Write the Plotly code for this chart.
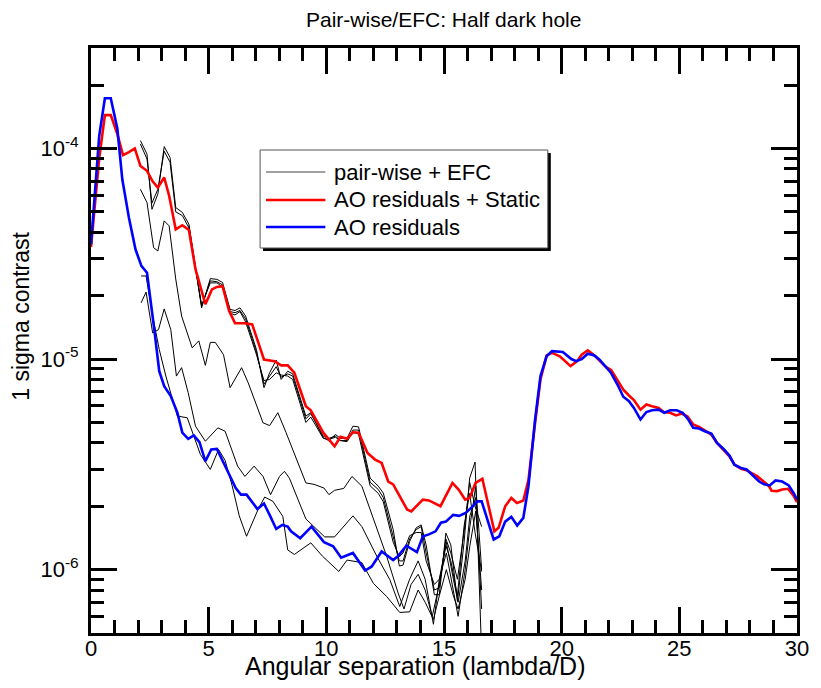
import plotly.graph_objects as go

# ---------------- data ----------------
red_x = [0.0, 0.35, 0.59, 0.84, 1.12, 1.36, 1.61, 1.86, 2.10, 2.38, 2.61, 2.84, 3.11, 3.32, 3.60, 3.88, 4.16, 4.44,
         4.86, 5.14, 5.35, 5.59, 5.87, 6.12, 6.54, 6.85, 7.35, 7.80, 8.08, 8.36, 8.64, 9.13, 9.34, 9.87, 10.35, 10.60,
         10.88, 11.13, 11.37, 11.75, 12.07, 12.35, 12.63, 12.84, 13.43, 13.61, 14.10, 14.36, 14.85, 15.36, 15.62, 15.90,
         16.09, 16.34, 16.63, 17.14, 17.32, 17.60, 17.86, 18.10, 18.37, 18.59, 18.87, 19.10, 19.36, 19.59, 19.92, 20.38,
         20.66, 20.85, 21.11, 21.39, 21.67, 21.88, 22.11, 22.37, 22.62, 22.86, 23.07, 23.35, 23.60, 23.84, 24.12, 24.33,
         24.61, 24.86, 25.10, 25.34, 25.59, 25.84, 26.08, 26.36, 26.60, 26.88, 27.13, 27.34, 27.62, 27.86, 28.04, 28.32,
         28.53, 28.81, 28.92, 29.16, 29.37, 29.62, 29.86, 30.0]
red_y = [3.4e-5, 9.0e-5, 1.44e-4, 1.44e-4, 1.17e-4, 9.3e-5, 9.6e-5, 1.0e-4, 8.26e-5, 7.83e-5, 7.0e-5, 6.52e-5, 7.28e-5,
         5.96e-5, 4.13e-5, 4.32e-5, 4.10e-5, 2.67e-5, 1.82e-5, 2.14e-5, 2.2e-5, 2.22e-5, 1.69e-5, 1.48e-5, 1.48e-5,
         1.46e-5, 9.95e-6, 9.77e-6, 9.33e-6, 9.33e-6, 8.61e-6, 5.97e-6, 5.71e-6, 4.47e-6, 3.85e-6, 4.27e-6, 4.18e-6,
         4.49e-6, 4.47e-6, 3.58e-6, 3.33e-6, 3.21e-6, 2.62e-6, 2.54e-6, 1.93e-6, 1.89e-6, 2.15e-6, 2.13e-6, 2.0e-6,
         2.58e-6, 2.40e-6, 2.15e-6, 2.19e-6, 2.58e-6, 2.70e-6, 1.52e-6, 1.58e-6, 2.0e-6, 2.19e-6, 2.07e-6, 2.13e-6,
         2.67e-6, 4.98e-6, 8.0e-6, 1.04e-5, 1.07e-5, 1.03e-5, 9.25e-6, 9.77e-6, 1.05e-5, 1.10e-5, 1.04e-5, 9.66e-6,
         9.18e-6, 8.85e-6, 8.0e-6, 7.16e-6, 6.71e-6, 6.38e-6, 5.75e-6, 6.08e-6, 5.97e-6, 5.86e-6, 5.60e-6, 5.56e-6,
         5.40e-6, 5.51e-6, 5.35e-6, 4.89e-6, 4.76e-6, 4.59e-6, 4.38e-6, 4.0e-6, 3.72e-6, 3.45e-6, 3.15e-6, 3.01e-6,
         2.96e-6, 2.88e-6, 2.77e-6, 2.65e-6, 2.49e-6, 2.37e-6, 2.36e-6, 2.40e-6, 2.42e-6, 2.24e-6, 2.09e-6]

blue_x = [0.0, 0.35, 0.59, 0.84, 1.12, 1.33, 1.61, 1.89, 2.14, 2.38, 2.69, 2.90, 3.11, 3.39, 3.67, 3.88, 4.13, 4.37,
          4.61, 4.86, 5.11, 5.35, 5.77, 6.15, 6.37, 6.61, 7.07, 7.35, 7.59, 7.87, 8.13, 8.36, 8.50, 8.89, 9.37, 9.90,
          10.29, 10.63, 11.13, 11.65, 11.93, 12.35, 12.84, 13.05, 13.40, 13.85, 14.10, 14.36, 14.64, 14.87, 15.08,
          15.39, 15.64, 15.92, 16.21, 16.42, 16.60, 17.11, 17.35, 17.60, 17.86, 18.11, 18.37, 18.59, 18.87, 19.10,
          19.36, 19.59, 20.05, 20.41, 20.62, 20.85, 21.11, 21.39, 21.60, 22.09, 22.37, 22.62, 22.86, 23.07, 23.35,
          23.60, 23.84, 24.12, 24.36, 24.61, 24.89, 25.14, 25.38, 25.59, 25.84, 26.08, 26.36, 26.60, 26.88, 27.13,
          27.34, 27.62, 27.86, 28.11, 28.39, 28.60, 28.84, 29.09, 29.37, 29.65, 29.86, 30.0]
blue_y = [3.5e-5, 1.15e-4, 1.73e-4, 1.73e-4, 1.24e-4, 7.14e-5, 4.70e-5, 3.32e-5, 2.77e-5, 2.57e-5, 1.38e-5, 8.75e-6,
          7.43e-6, 6.67e-6, 5.56e-6, 4.47e-6, 4.18e-6, 4.34e-6, 4.03e-6, 3.27e-6, 3.72e-6, 3.74e-6, 2.99e-6, 2.44e-6,
          2.27e-6, 2.27e-6, 1.94e-6, 2.06e-6, 1.82e-6, 1.56e-6, 1.63e-6, 1.60e-6, 1.52e-6, 1.41e-6, 1.60e-6, 1.35e-6,
          1.29e-6, 1.14e-6, 1.20e-6, 9.9e-7, 1.035e-6, 1.22e-6, 1.11e-6, 1.16e-6, 1.30e-6, 1.21e-6, 1.44e-6, 1.47e-6,
          1.52e-6, 1.67e-6, 1.69e-6, 1.82e-6, 1.80e-6, 1.86e-6, 1.99e-6, 2.11e-6, 2.11e-6, 1.39e-6, 1.44e-6, 1.69e-6,
          1.78e-6, 1.62e-6, 1.76e-6, 2.49e-6, 5.16e-6, 8.30e-6, 1.03e-5, 1.09e-5, 1.08e-5, 1.0e-5, 9.77e-6, 1.0e-5,
          1.06e-5, 1.04e-5, 9.95e-6, 8.61e-6, 7.57e-6, 6.62e-6, 6.31e-6, 5.86e-6, 5.16e-6, 5.60e-6, 5.71e-6, 5.75e-6,
          5.56e-6, 5.71e-6, 5.71e-6, 5.56e-6, 5.16e-6, 4.71e-6, 4.68e-6, 4.54e-6, 4.43e-6, 4.0e-6, 3.74e-6, 3.48e-6,
          3.15e-6, 3.04e-6, 2.99e-6, 2.82e-6, 2.62e-6, 2.54e-6, 2.51e-6, 2.65e-6, 2.62e-6, 2.51e-6, 2.31e-6, 2.15e-6]

# pair-wise + EFC iterations (thin black)
pw1_x = [2.10, 2.38, 2.59, 2.84, 3.11, 3.36, 3.60, 3.88, 4.16, 4.48, 4.70, 5.07, 5.35, 5.59, 5.91, 6.12, 6.33, 6.57,
         7.03, 7.35, 7.59, 7.87, 8.08, 8.36, 8.57, 9.13, 9.34, 9.87, 10.10, 10.39, 10.60, 10.88, 11.13, 11.37, 11.86,
         12.21, 12.42, 12.84, 13.10, 13.26, 13.54, 13.82, 14.03, 14.24, 14.59, 14.80, 15.08, 15.29, 15.57, 15.85,
         16.09, 16.32, 16.60]
pw1_y = [1.09e-4, 9.4e-5, 5.14e-5, 6.07e-5, 1.02e-4, 9.06e-5, 5.24e-5, 4.97e-5, 4.37e-5, 2.57e-5, 1.75e-5, 2.41e-5,
         2.39e-5, 2.31e-5, 1.72e-5, 1.70e-5, 1.75e-5, 1.60e-5, 1.11e-5, 7.31e-6, 8.61e-6, 9.88e-6, 8.0e-6, 8.75e-6,
         8.5e-6, 5.36e-6, 5.56e-6, 4.23e-6, 4.10e-6, 4.38e-6, 4.20e-6, 4.20e-6, 4.80e-6, 4.76e-6, 2.72e-6, 2.49e-6,
         2.31e-6, 1.55e-6, 1.04e-6, 1.05e-6, 1.36e-6, 1.58e-6, 1.63e-6, 1.31e-6, 7.6e-7, 7.6e-7, 1.49e-6, 1.31e-6,
         7.06e-7, 1.34e-6, 2.72e-6, 3.24e-6, 4.0e-7]
pw2_x = [2.10, 2.38, 2.59, 2.84, 3.11, 3.36, 3.60, 3.88, 4.16, 4.48, 4.70, 5.07, 5.35, 5.59, 5.91, 6.12, 6.33, 6.57,
         7.03, 7.35, 7.59, 7.87, 8.08, 8.36, 8.57, 9.13, 9.34, 9.87, 10.10, 10.39, 10.60, 10.88, 11.13, 11.37, 11.86,
         12.21, 12.42, 12.84, 13.10, 13.26, 13.54, 13.82, 14.03, 14.24, 14.59, 14.80, 15.08, 15.29, 15.57, 15.85,
         16.09, 16.32, 16.60]
pw2_y = [1.05e-4, 8.9e-5, 5.5e-5, 6.4e-5, 9.7e-5, 8.6e-5, 5.0e-5, 4.8e-5, 4.2e-5, 2.5e-5, 1.78e-5, 2.35e-5,
         2.33e-5, 2.25e-5, 1.68e-5, 1.66e-5, 1.70e-5, 1.55e-5, 1.08e-5, 7.6e-6, 8.3e-6, 9.2e-6, 8.2e-6, 8.5e-6,
         8.3e-6, 5.2e-6, 5.5e-6, 4.3e-6, 4.2e-6, 4.3e-6, 4.1e-6, 4.1e-6, 4.6e-6, 4.6e-6, 2.6e-6, 2.4e-6,
         2.2e-6, 1.45e-6, 1.1e-6, 1.1e-6, 1.4e-6, 1.55e-6, 1.6e-6, 1.2e-6, 8.0e-7, 8.2e-7, 1.4e-6, 1.2e-6,
         9.0e-7, 1.5e-6, 2.6e-6, 2.0e-6, 1.6e-6]
pw3_x = [4.16, 4.48, 4.70, 5.07, 5.35, 5.59, 5.91, 6.12, 6.33, 6.57, 7.03, 7.35, 7.59, 7.87, 8.08, 8.36, 8.57, 9.13,
         9.34, 9.87, 10.10, 10.39, 10.60, 10.88, 11.13, 11.37, 11.86, 12.21, 12.42, 12.84, 13.10, 13.26, 13.54, 13.82,
         14.03, 14.24, 14.59, 14.80, 15.08, 15.29, 15.57, 15.85, 16.09, 16.32, 16.60]
pw3_y = [4.3e-5, 2.6e-5, 1.8e-5, 2.3e-5, 2.3e-5, 2.2e-5, 1.65e-5, 1.62e-5, 1.68e-5, 1.5e-5, 1.05e-5, 7.9e-6,
         8.0e-6, 8.6e-6, 8.4e-6, 8.3e-6, 8.0e-6, 5.0e-6, 5.3e-6, 4.2e-6, 4.15e-6, 4.25e-6, 4.1e-6, 4.05e-6, 4.5e-6,
         4.4e-6, 2.5e-6, 2.3e-6, 2.1e-6, 1.35e-6, 1.15e-6, 1.2e-6, 1.45e-6, 1.5e-6, 1.5e-6, 1.1e-6, 8.5e-7, 9.0e-7,
         1.3e-6, 1.1e-6, 7.5e-7, 1.6e-6, 2.3e-6, 1.5e-6, 9.8e-7]
pw4_x = [2.10, 2.38, 2.66, 2.84, 3.11, 3.32, 3.60, 3.85, 4.30, 4.58, 4.86, 5.07, 5.28, 5.63, 5.91, 6.40, 6.68, 7.31,
         7.59, 7.94, 8.29, 8.64, 9.13, 9.48, 9.90, 10.11, 10.35, 10.74, 11.09, 11.51, 12.07, 12.56, 13.05, 13.30,
         13.60, 13.90, 14.20, 14.50, 14.80, 15.10, 15.40, 15.60, 15.90, 16.10, 16.35, 16.60]
pw4_y = [6.40e-5, 5.53e-5, 3.38e-5, 3.26e-5, 4.53e-5, 4.29e-5, 2.40e-5, 1.60e-5, 1.13e-5, 1.22e-5, 9.33e-6, 1.20e-5,
         1.20e-5, 1.05e-5, 7.31e-6, 9.10e-6, 7.71e-6, 4.98e-6, 4.83e-6, 5.56e-6, 4.47e-6, 3.58e-6, 2.58e-6, 2.54e-6,
         2.44e-6, 2.27e-6, 2.38e-6, 2.43e-6, 2.77e-6, 2.49e-6, 1.67e-6, 1.16e-6, 7.74e-7, 6.5e-7, 8.5e-7, 9.5e-7,
         8.0e-7, 6.0e-7, 8.5e-7, 1.35e-6, 9.0e-7, 7.0e-7, 1.1e-6, 1.8e-6, 2.2e-6, 6.5e-7]
pw5_x = [2.13, 2.34, 2.62, 2.87, 3.11, 3.39, 3.63, 3.85, 4.13, 4.44, 4.86, 5.39, 5.70, 5.98, 6.23, 6.54, 6.93, 7.31,
         7.63, 8.01, 8.22, 8.43, 9.13, 9.93, 10.35, 11.13, 11.51, 12.14, 12.70, 13.12, 13.54, 13.90, 14.20, 14.55,
         14.80, 15.10, 15.40, 15.60, 15.90, 16.10, 16.35, 16.60]
pw5_y = [1.85e-5, 2.08e-5, 1.33e-5, 1.38e-5, 1.73e-5, 1.38e-5, 8.3e-6, 9.1e-6, 6.92e-6, 4.80e-6, 4.07e-6, 4.71e-6,
         4.54e-6, 3.72e-6, 3.10e-6, 2.77e-6, 3.10e-6, 2.77e-6, 2.27e-6, 2.77e-6, 2.93e-6, 2.72e-6, 1.74e-6, 1.43e-6,
         1.43e-6, 1.80e-6, 1.60e-6, 1.16e-6, 8.95e-7, 6.68e-7, 9.0e-7, 1.1e-6, 9.0e-7, 5.5e-7, 9.0e-7, 1.2e-6, 8.0e-7,
         6.0e-7, 1.0e-6, 1.6e-6, 2.5e-6, 1.0e-6]
pw6_x = [2.13, 2.34, 2.62, 2.90, 3.18, 3.39, 3.67, 4.09, 4.37, 4.65, 5.07, 5.42, 5.70, 6.00, 6.30, 6.61, 7.10, 7.38,
         7.73, 8.15, 8.36, 8.64, 9.34, 9.83, 10.53, 10.88, 11.51, 12.00, 12.56, 13.12, 13.54, 13.90, 14.20, 14.55,
         14.80, 15.10, 15.40, 15.60, 15.90, 16.10, 16.35, 16.60]
pw6_y = [2.48e-5, 2.48e-5, 1.6e-5, 1.11e-5, 8.3e-6, 6.9e-6, 5.36e-6, 5.26e-6, 4.3e-6, 3.52e-6, 2.99e-6, 3.72e-6,
         3.3e-6, 2.5e-6, 1.8e-6, 1.44e-6, 1.93e-6, 2.21e-6, 2.11e-6, 1.79e-6, 1.24e-6, 1.18e-6, 1.34e-6, 1.16e-6,
         9.8e-7, 1.11e-6, 1.08e-6, 8.6e-7, 7.46e-7, 6.26e-7, 6.3e-7, 8.0e-7, 7.0e-7, 5.8e-7, 7.5e-7, 1.0e-6, 7.5e-7,
         6.5e-7, 9.0e-7, 1.3e-6, 1.9e-6, 8.0e-7]

pw_x = [pw1_x, pw2_x, pw3_x, pw4_x, pw5_x, pw6_x]
pw_y = [pw1_y, pw2_y, pw3_y, pw4_y, pw5_y, pw6_y]

y_tickvals = [1e-6, 1e-5, 1e-4]
y_ticktext = ["10<sup>-6</sup>", "10<sup>-5</sup>", "10<sup>-4</sup>"]
x_tickvals = [0, 5, 10, 15, 20, 25, 30]

title_text = "Pair-wise/EFC: Half dark hole"
x_title = "Angular separation (lambda/D)"
y_title = "1 sigma contrast"
legend_labels = ["pair-wise + EFC", "AO residuals + Static", "AO residuals"]

# ---------------- figure ----------------
OFF = 8                      # page body margin
W, H = 821 - OFF, 688 - OFF
L, R, T, B = 91, 805, 48, 633  # plot frame in screenshot pixels
FONT = "Liberation Sans, Arial, Helvetica, sans-serif"


def px(xs):
    return (xs - L) / (R - L)


def py(ys):
    return (B - ys) / (B - T)


fig = go.Figure()
for xs, ys in zip(pw_x, pw_y):
    fig.add_trace(go.Scatter(x=xs, y=ys, mode="lines", line=dict(color="black", width=1),
                             showlegend=False, hoverinfo="skip"))
fig.add_trace(go.Scatter(x=red_x, y=red_y, mode="lines", line=dict(color="#ff0000", width=2.6),
                         showlegend=False, name=legend_labels[1]))
fig.add_trace(go.Scatter(x=blue_x, y=blue_y, mode="lines", line=dict(color="#0000ff", width=2.6),
                         showlegend=False, name=legend_labels[2]))

minor_y = [k * 10.0 ** e for e in (-7, -6, -5, -4) for k in range(2, 10)]

axis_common = dict(showline=True, linewidth=3, linecolor="black", mirror="allticks", ticks="inside",
                   ticklen=26, tickwidth=2.5, tickcolor="black", showgrid=False, zeroline=False,
                   tickfont=dict(family=FONT, size=22, color="black"))
fig.update_xaxes(range=[0, 30], tickmode="array", tickvals=x_tickvals, ticklabelstandoff=-6,
                 ticklabeloverflow="allow",
                 minor=dict(ticks="inside", ticklen=13, tickwidth=2.5, tickcolor="black", dtick=1, showgrid=False),
                 **axis_common)
fig.update_yaxes(type="log", range=[-6.301, -3.523], tickmode="array", tickvals=y_tickvals, ticktext=y_ticktext,
                 ticklabelstandoff=5,
                 minor=dict(ticks="inside", ticklen=13, tickwidth=2.5, tickcolor="black", tickmode="array",
                            tickvals=minor_y, showgrid=False),
                 **axis_common)

# boxed legend with drop shadow
lx0, lx1, ly0, ly1 = 262, 553, 150, 248
shapes = [
    dict(type="rect", xref="paper", yref="paper", x0=px(lx0 + 3), x1=px(lx1 + 3), y0=py(ly1 + 3), y1=py(ly0 + 3),
         fillcolor="black", line=dict(width=0), layer="above"),
    dict(type="rect", xref="paper", yref="paper", x0=px(lx0), x1=px(lx1), y0=py(ly1), y1=py(ly0),
         fillcolor="white", line=dict(color="#555555", width=1), layer="above"),
]
rows = [172, 200, 227]
cols = ["#444444", "#ff0000", "#0000ff"]
widths = [1, 2.6, 2.6]
annotations = []
for r, c, w, lab in zip(rows, cols, widths, legend_labels):
    shapes.append(dict(type="line", xref="paper", yref="paper", x0=px(268), x1=px(328), y0=py(r), y1=py(r),
                       line=dict(color=c, width=w), layer="above"))
    annotations.append(dict(xref="paper", yref="paper", x=px(335), y=py(r), text=lab, showarrow=False,
                            xanchor="left", yanchor="middle", font=dict(family=FONT, size=22, color="black")))

annotations.append(dict(xref="paper", yref="paper", x=px(419), y=py(666), text=x_title, showarrow=False,
                        xanchor="center", yanchor="middle", borderpad=0,
                        font=dict(family=FONT, size=25, color="black")))
annotations.append(dict(xref="paper", yref="paper", x=px(20), y=py(316), text=y_title, showarrow=False,
                        textangle=-90, xanchor="center", yanchor="middle",
                        font=dict(family=FONT, size=23, color="black")))
annotations.append(dict(xref="paper", yref="paper", x=px(447), y=py(20), text=title_text, showarrow=False,
                        xanchor="center", yanchor="middle", borderpad=0,
                        font=dict(family=FONT, size=21, color="black")))

fig.update_layout(width=W, height=H, margin=dict(l=L - OFF, r=W - (R - OFF), t=T - OFF, b=H - (B - OFF), pad=0),
                  paper_bgcolor="white", plot_bgcolor="white", showlegend=False,
                  shapes=shapes, annotations=annotations)

fig.write_html("out.html")
